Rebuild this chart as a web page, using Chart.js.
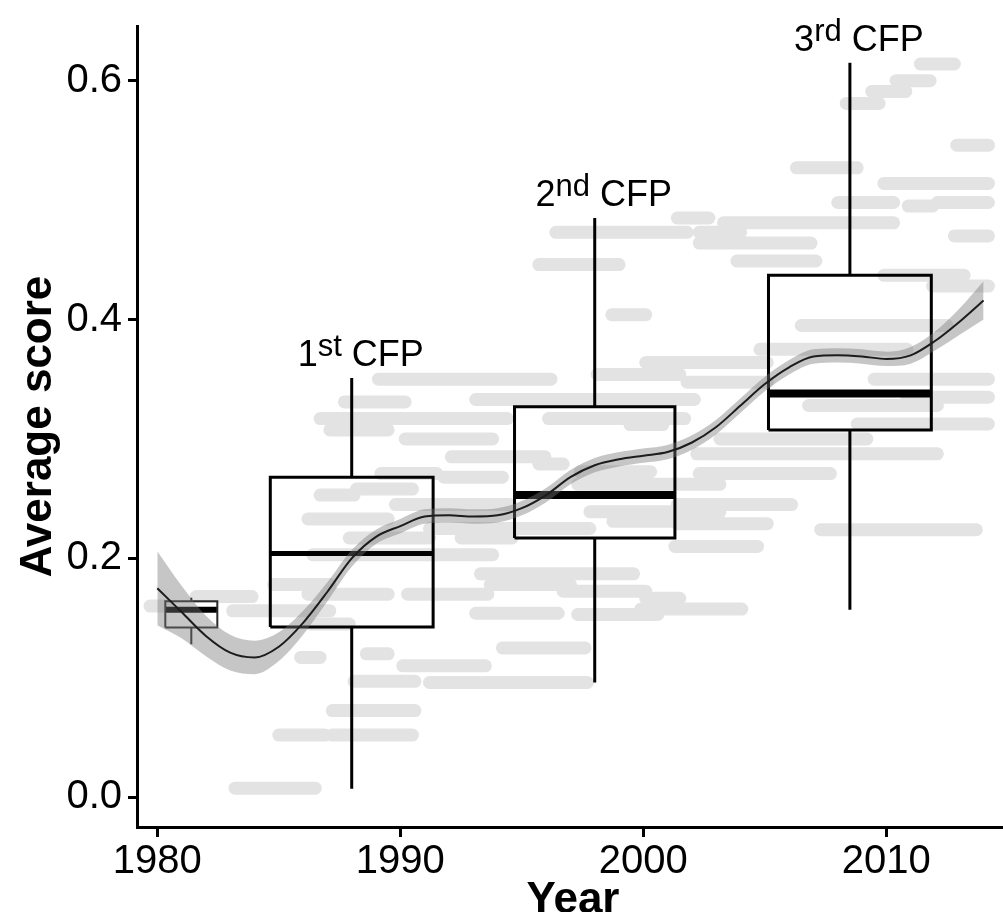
<!DOCTYPE html>
<html>
<head>
<meta charset="utf-8">
<script src="https://cdn.jsdelivr.net/npm/chart.js@4.4.1/dist/chart.umd.min.js"></script>
<style>
  html, body { margin: 0; padding: 0; background: #ffffff; }
  #wrap { width: 1003px; height: 912px; position: relative; }
</style>
</head>
<body>
<div id="wrap"><canvas id="chart"></canvas></div>
<script>
// ---- data -------------------------------------------------------------
// smoothed trend of the average score, with its confidence band
const years = [1980,1981,1982,1983,1984,1985,1986,1987,1988,1989,1990,1991,1992,1993,1994,1995,1996,1997,
               1998,1999,2000,2001,2002,2003,2004,2005,2006,2007,2008,2009,2010,2011,2012,2013,2014];
const smoothScore = [0.175,0.155,0.135,0.121,0.117,0.126,0.146,0.172,0.200,0.218,0.227,0.235,0.236,0.235,0.236,
                     0.242,0.253,0.268,0.278,0.283,0.286,0.289,0.297,0.310,0.328,0.346,0.360,0.369,0.370,0.369,
                     0.367,0.370,0.382,0.398,0.416];
const bandLow  = [0.144,0.133,0.118,0.106,0.103,0.114,0.136,0.164,0.193,0.212,0.221,0.229,0.230,0.229,0.230,
                  0.236,0.247,0.262,0.272,0.277,0.280,0.283,0.291,0.304,0.322,0.340,0.354,0.363,0.364,0.363,
                  0.361,0.363,0.374,0.387,0.400];
const bandHigh = [0.206,0.177,0.152,0.136,0.131,0.138,0.156,0.180,0.207,0.224,0.233,0.241,0.242,0.241,0.242,
                  0.248,0.259,0.274,0.284,0.289,0.292,0.295,0.303,0.316,0.334,0.352,0.366,0.375,0.376,0.375,
                  0.373,0.377,0.390,0.409,0.432];

// individual score spans (first year, last year, score)
const segStart = [2011.4,2010.4,2009.4,2008.35,2012.9,2006.3,2009.9,2008.0,2010.9,2012.1,2001.4,2003.3,1996.4,2002.3,
                  2012.8,2002.3,2003.85,1995.7,2009.9,2011.9,1998.7,2006.5,2004.8,2000.1,1998.1,1989.1,2001.8,2009.5,
                  2010.85,1993.1,1987.7,2006.8,1986.7,1996.1,1999.45,2008.8,1987.1,1990.2,2003.15,1992.1,2002.2,1995.7,
                  2002.3,1989.2,1991.8,1997.4,1997.3,1988.2,1986.7,1989.8,2001.4,1997.8,1986.2,1998.75,2001.4,1991.2,
                  2007.3,1987.9,1992.5,2001.3,1986.4,1993.3,1993.7,1984.8,1996.7,1986.2,1990.3,1981.6,2000.1,1999.9,
                  1993.1,1997.3,1983.1,1986.3,1988.6,1985.9,1990.1,1988.1,1991.2,1994.2,1987.2,1985.0,1987.2,1983.2,
                  1979.7];
const segEnd   = [2012.8,2011.8,2010.8,2009.7,2014.2,2008.8,2014.2,2010.3,2011.9,2014.2,2002.7,2010.3,2001.8,2004.0,
                  2014.2,2006.9,2007.1,1999.0,2013.2,2014.2,2000.1,2012.5,2010.85,2005.1,2001.5,1996.2,2005.1,2014.2,
                  2014.2,2002.1,1990.2,2012.1,1994.4,2001.7,2000.8,2014.2,1989.5,1993.8,2009.2,1995.95,2012.1,1996.7,
                  2007.7,1991.5,1994.2,2000.3,2003.15,1990.5,1988.1,1994.5,2006.1,2003.15,1989.5,2003.15,2005.1,1997.8,
                  2013.7,1991.2,1994.6,2004.7,1993.8,1999.6,1997.0,1987.1,2000.1,1989.5,1993.6,1983.9,2001.5,2004.05,
                  1996.5,2000.6,1987.1,1987.9,1989.5,1986.7,1993.5,1990.6,1997.7,1997.6,1990.6,1986.9,1990.5,1986.5,
                  1980.4];
const segScore = [0.614,0.600,0.591,0.581,0.546,0.527,0.514,0.498,0.495,0.498,0.485,0.481,0.473,0.473,
                  0.470,0.464,0.449,0.446,0.437,0.428,0.404,0.395,0.375,0.364,0.354,0.350,0.3475,0.350,
                  0.335,0.333,0.331,0.328,0.317,0.317,0.312,0.3125,0.3075,0.300,0.300,0.285,0.2875,0.279,
                  0.271,0.271,0.268,0.2725,0.262,0.258,0.253,0.245,0.245,0.239,0.233,0.231,0.229,0.225,
                  0.224,0.217,0.217,0.210,0.203,0.187,0.178,0.178,0.1725,0.170,0.170,0.168,0.1665,0.1575,
                  0.154,0.153,0.156,0.145,0.120,0.117,0.110,0.097,0.096,0.125,0.0725,0.052,0.052,0.0075,
                  0.160];

// box-and-whisker summaries per period
const boxCenter    = [1981.4, 1988, 1998, 2008.5];
const boxSpanYears = [2.14, 6.7, 6.6, 6.7];
const whiskerLow   = [0.128, 0.007, 0.096, 0.157];
const quartile1    = [0.142, 0.1425, 0.217, 0.3075];
const medianScore  = [0.157, 0.204, 0.253, 0.338];
const quartile3    = [0.164, 0.268, 0.327, 0.437];
const whiskerHigh  = [0.167, 0.351, 0.485, 0.615];
const cfpNumber    = [null, '1', '2', '3'];
const cfpSuffix    = [null, 'st', 'nd', 'rd'];

const yearTicks  = [1980, 1990, 2000, 2010];
const scoreTicks = [0.0, 0.2, 0.4, 0.6];
const xTitle = 'Year';
const yTitle = 'Average score';

// ---- styling ----------------------------------------------------------
const sansFamily = '"Liberation Sans", Arial, Helvetica, sans-serif';
const spanColor = '#e3e3e3';
const medianStroke = [6, 5, 8, 8];
const frameStroke  = [2, 3, 3, 3];

// ---- datasets ---------------------------------------------------------
const datasets = [];

segStart.forEach((s, i) => {
  datasets.push({
    data: [{ x: s, y: segScore[i] }, { x: segEnd[i], y: segScore[i] }],
    borderColor: spanColor, borderWidth: 13, borderCapStyle: 'round',
    pointRadius: 0, fill: false, order: 10
  });
});

boxCenter.forEach((c, i) => {
  const l = c - boxSpanYears[i] / 2, r = c + boxSpanYears[i] / 2;
  const stroke = i === 0 ? '#2a2a2a' : '#000000';
  const common = { pointRadius: 0, fill: false, order: 5, borderColor: stroke, borderCapStyle: 'butt' };
  datasets.push(Object.assign({}, common, {
    data: [{ x: l, y: quartile1[i] }, { x: r, y: quartile1[i] }, { x: r, y: quartile3[i] },
           { x: l, y: quartile3[i] }, { x: l, y: quartile1[i] }],
    borderWidth: frameStroke[i], borderJoinStyle: 'miter'
  }));
  datasets.push(Object.assign({}, common, {
    data: [{ x: l, y: medianScore[i] }, { x: r, y: medianScore[i] }],
    borderColor: '#000000', borderWidth: medianStroke[i]
  }));
  datasets.push(Object.assign({}, common, {
    data: [{ x: c, y: quartile3[i] }, { x: c, y: whiskerHigh[i] }],
    borderWidth: frameStroke[i]
  }));
  datasets.push(Object.assign({}, common, {
    data: [{ x: c, y: quartile1[i] }, { x: c, y: whiskerLow[i] }],
    borderWidth: frameStroke[i]
  }));
});

// confidence band (upper filled down to lower)
datasets.push({
  data: years.map((yr, i) => ({ x: yr, y: bandHigh[i] })),
  borderWidth: 0, borderColor: 'rgba(0,0,0,0)', pointRadius: 0,
  backgroundColor: 'rgba(120,120,120,0.42)', fill: '+1',
  cubicInterpolationMode: 'monotone', order: 3
});
datasets.push({
  data: years.map((yr, i) => ({ x: yr, y: bandLow[i] })),
  borderWidth: 0, borderColor: 'rgba(0,0,0,0)', pointRadius: 0, fill: false,
  cubicInterpolationMode: 'monotone', order: 3
});
// trend line
datasets.push({
  data: years.map((yr, i) => ({ x: yr, y: smoothScore[i] })),
  borderColor: '#1c1c1c', borderWidth: 2, pointRadius: 0, fill: false,
  cubicInterpolationMode: 'monotone', order: 1
});

// ---- text: period labels and axis titles -------------------------------
const textPlugin = {
  id: 'periodText',
  afterDraw(chart) {
    const { ctx, chartArea } = chart;
    const xs = chart.scales.x, ys = chart.scales.y;
    ctx.save();
    ctx.fillStyle = '#000000';
    ctx.textBaseline = 'alphabetic';
    ctx.textAlign = 'left';
    const mainFont = `36px ${sansFamily}`;
    const supFont = `31px ${sansFamily}`;
    boxCenter.forEach((c, i) => {
      if (!cfpNumber[i]) return;
      ctx.font = mainFont;
      const wNum = ctx.measureText(cfpNumber[i]).width;
      const wGap = ctx.measureText(' ').width;
      const wCfp = ctx.measureText('CFP').width;
      ctx.font = supFont;
      const wSup = ctx.measureText(cfpSuffix[i]).width;
      const total = wNum + wSup + wGap + wCfp;
      const cx = xs.getPixelForValue(c) + 9;
      const base = ys.getPixelForValue(whiskerHigh[i]) - 12;
      let x0 = cx - total / 2;
      ctx.font = mainFont;
      ctx.fillText(cfpNumber[i], x0, base);
      ctx.font = supFont;
      ctx.fillText(cfpSuffix[i], x0 + wNum, base - 10);
      ctx.font = mainFont;
      ctx.fillText('CFP', x0 + wNum + wSup + wGap, base);
    });
    ctx.font = `bold 44px ${sansFamily}`;
    ctx.textAlign = 'center';
    ctx.fillText(xTitle, (chartArea.left + chartArea.right) / 2 + 3, chart.height + 1);
    ctx.translate(51, (chartArea.top + chartArea.bottom) / 2);
    ctx.rotate(-Math.PI / 2);
    ctx.fillText(yTitle, 0, 0);
    ctx.restore();
  }
};

new Chart(document.getElementById('chart'), {
  type: 'line',
  data: { datasets },
  options: {
    responsive: true,
    maintainAspectRatio: false,
    animation: false,
    devicePixelRatio: 1,
    layout: { padding: { top: 22, right: 0, bottom: 0, left: 0 } },
    plugins: { legend: { display: false }, tooltip: { enabled: false } },
    elements: { line: { tension: 0 }, point: { radius: 0 } },
    scales: {
      x: {
        type: 'linear', min: 1979.165, max: 2014.8,
        afterFit: s => { s.height = 85; },
        afterBuildTicks: s => { s.ticks = yearTicks.map(v => ({ value: v })); },
        grid: { display: true, drawOnChartArea: false, drawTicks: true, tickLength: 10, tickWidth: 3, tickColor: '#000' },
        border: { display: true, color: '#000', width: 3 },
        ticks: {
          font: { family: sansFamily, size: 40, lineHeight: 1 }, color: '#000', padding: 5,
          maxRotation: 0, autoSkip: false, callback: v => String(v)
        }
      },
      y: {
        type: 'linear', min: -0.025, max: 0.6458,
        afterFit: s => { s.width = 137; },
        afterBuildTicks: s => { s.ticks = scoreTicks.map(v => ({ value: v })); },
        grid: { display: true, drawOnChartArea: false, drawTicks: true, tickLength: 9, tickWidth: 3, tickColor: '#000' },
        border: { display: true, color: '#000', width: 3 },
        ticks: {
          font: { family: sansFamily, size: 40, lineHeight: 1 }, color: '#000', padding: 6,
          callback: v => Number(v).toFixed(1)
        }
      }
    }
  },
  plugins: [textPlugin]
});
</script>
</body>
</html>
